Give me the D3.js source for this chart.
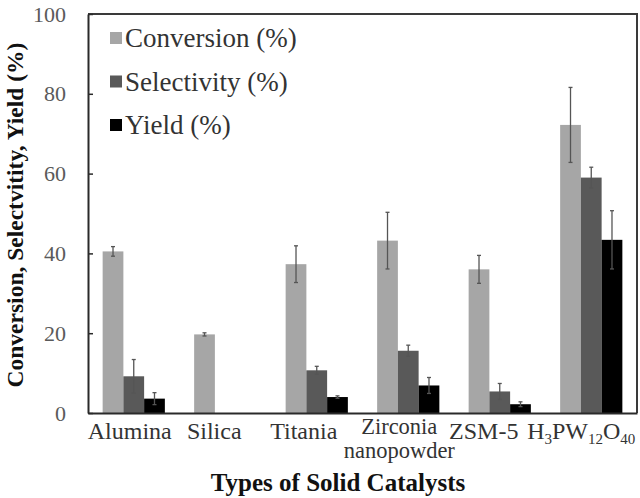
<!DOCTYPE html>
<html>
<head>
<meta charset="utf-8">
<script src="https://cdn.jsdelivr.net/npm/d3@7"></script>
<style>
  body { margin: 0; background: #fff; }
  svg { display: block; }
  text { font-family: "Liberation Serif", "Times New Roman", serif; }
</style>
</head>
<body>
<script>
// data
const categories = ["Alumina", "Silica", "Titania", "Zirconia nanopowder", "ZSM-5", "H3PW12O40"];
const seriesNames = ["Conversion (%)", "Selectivity (%)", "Yield (%)"];
const conversion = [40.5, 19.7, 37.3, 43.2, 36.0, 72.2];
const conversionErr = [1.2, 0.4, 4.6, 7.1, 3.5, 9.4];
const selectivity = [9.2, 0, 10.7, 15.6, 5.4, 59.0];
const selectivityErr = [4.2, 0, 1.0, 1.4, 2.0, 2.6];
const yieldVals = [3.6, 0, 4.0, 6.9, 2.2, 43.4];
const yieldErr = [1.5, 0, 0.3, 2.0, 0.6, 7.3];
const yTicks = [0, 20, 40, 60, 80, 100];

const colors = ["#a6a6a6", "#595959", "#000000"];
const values = [conversion, selectivity, yieldVals];
const errors = [conversionErr, selectivityErr, yieldErr];
// the category labels in the picture sit a little left of their bar groups
const labelShift = [-4, -11, -13, -9, -16, -10];

let margin = { top: 14, right: 3, bottom: 85, left: 88 }, width = 640 - 88 - 3, height = 498 - 14 - 85;

let svg = d3.select("body").append("svg")
    .attr("width", 640)
    .attr("height", 498);

let g = svg.append("g")
    .attr("transform", "translate(" + margin.left + "," + margin.top + ")");

let xScale = d3.scaleBand()
    .domain(categories)
    .range([0, width])
    .paddingInner(0.32)
    .paddingOuter(0.16);

let xSeries = d3.scaleBand()
    .domain(seriesNames)
    .range([0, xScale.bandwidth()]);

let yScale = d3.scaleLinear()
    .domain([0, 100])
    .range([height, 0]);

// flatten into one row per bar
let bars = [];
categories.forEach((c, i) => {
    seriesNames.forEach((s, j) => {
        bars.push({ cat: c, series: s, value: values[j][i], err: errors[j][i], color: colors[j] });
    });
});

// frame (top and right)
g.append("path")
    .attr("d", "M0,0H" + width + "V" + height)
    .attr("fill", "none")
    .attr("stroke", "#3a3a3a")
    .attr("stroke-width", 2);

g.selectAll("rect.bar")
    .data(bars.filter(d => d.value > 0))
    .join("rect")
    .attr("class", "bar")
    .attr("x", d => xScale(d.cat) + xSeries(d.series))
    .attr("y", d => yScale(d.value))
    .attr("width", xSeries.bandwidth())
    .attr("height", d => height - yScale(d.value))
    .attr("fill", d => d.color);

// error bars
let eb = g.selectAll("g.err")
    .data(bars.filter(d => d.err > 0))
    .join("g")
    .attr("class", "err")
    .attr("stroke", "#555")
    .attr("stroke-width", 1.3);

const barMid = d => xScale(d.cat) + xSeries(d.series) + xSeries.bandwidth() / 2;

eb.append("line")
    .attr("x1", barMid)
    .attr("x2", barMid)
    .attr("y1", d => yScale(d.value - d.err))
    .attr("y2", d => yScale(d.value + d.err));

[-1, 1].forEach(sign => {
    eb.append("line")
        .attr("x1", d => barMid(d) - 2)
        .attr("x2", d => barMid(d) + 2)
        .attr("y1", d => yScale(d.value + sign * d.err))
        .attr("y2", d => yScale(d.value + sign * d.err));
});

// y axis
let yAxis = g.append("g")
    .call(d3.axisLeft(yScale).tickValues(yTicks).tickSizeInner(-5).tickSizeOuter(0).tickPadding(22));
yAxis.select(".domain").attr("stroke", "#2a2a2a").attr("stroke-width", 2);
yAxis.selectAll(".tick line").attr("stroke", "#2a2a2a").attr("stroke-width", 1.5);
yAxis.selectAll(".tick text")
    .attr("font-size", 22)
    .attr("fill", "#5a5a5a");

// x axis
let xAxis = g.append("g")
    .attr("transform", "translate(0," + height + ")")
    .call(d3.axisBottom(xScale).tickSize(0).tickSizeOuter(0));
xAxis.select(".domain").attr("stroke", "#2a2a2a").attr("stroke-width", 2);
xAxis.selectAll(".tick text")
    .attr("font-size", 24)
    .attr("fill", "#333")
    .attr("dy", null)
    .attr("y", 26)
    .attr("x", (d, i) => labelShift[i])
    .each(function (d, i) {
        let t = d3.select(this);
        if (d === "Zirconia nanopowder") {
            t.text(null).attr("y", 21).attr("font-size", 22.5);
            t.append("tspan").attr("x", labelShift[i]).text("Zirconia");
            t.append("tspan").attr("x", labelShift[i]).attr("dy", 24).text("nanopowder");
        } else if (d === "H3PW12O40") {
            t.text(null);
            const parts = [["H", 0], ["3", 1], ["PW", 0], ["12", 1], ["O", 0], ["40", 1]];
            parts.forEach(p => {
                t.append("tspan")
                    .attr("baseline-shift", p[1] ? "-30%" : null)
                    .attr("font-size", p[1] ? 15 : 24)
                    .text(p[0]);
            });
        }
    });

// axis titles
svg.append("text")
    .attr("x", 338)
    .attr("y", 491)
    .attr("text-anchor", "middle")
    .attr("font-size", 25)
    .attr("font-weight", "bold")
    .attr("fill", "#111")
    .text("Types of Solid Catalysts");

svg.append("text")
    .attr("transform", "translate(23,215) rotate(-90)")
    .attr("text-anchor", "middle")
    .attr("font-size", 23.5)
    .attr("font-weight", "bold")
    .attr("fill", "#111")
    .text("Conversion, Selectvitity, Yield (%)");

// legend
let legend = svg.append("g")
    .selectAll("g")
    .data(seriesNames)
    .join("g")
    .attr("transform", (d, i) => "translate(110," + (38 + i * 43.5) + ")");

legend.append("rect")
    .attr("x", 0)
    .attr("y", -6)
    .attr("width", 12)
    .attr("height", 12)
    .attr("fill", (d, i) => colors[i]);

legend.append("text")
    .attr("x", 15)
    .attr("y", 9)
    .attr("font-size", 27)
    .attr("fill", "#333")
    .text(d => d);
</script>
</body>
</html>
